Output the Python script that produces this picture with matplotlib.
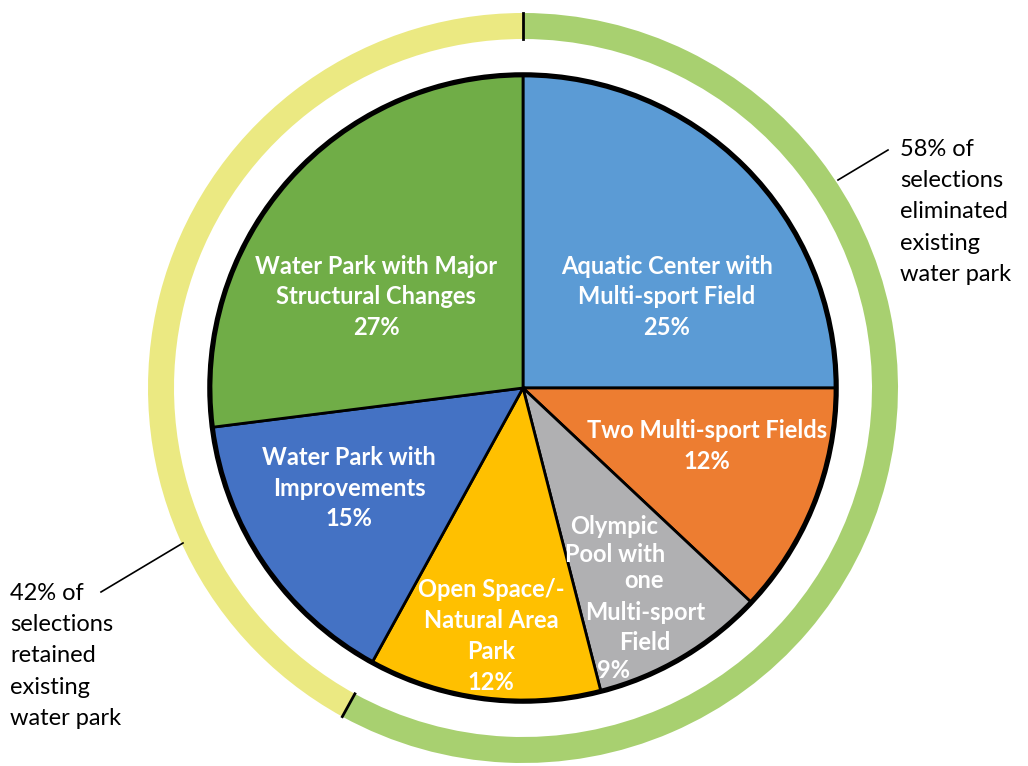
import matplotlib
matplotlib.use("Agg")
import matplotlib.pyplot as plt
import numpy as np
from matplotlib.patches import Circle, Rectangle

# slices, clockwise from 12 o'clock
slice_names = [
    "Aquatic Center with\nMulti-sport Field",
    "Two Multi-sport Fields",
    "Olympic Pool with one Multi-sport Field",
    "Open Space/-\nNatural Area\nPark",
    "Water Park with\nImprovements",
    "Water Park with Major\nStructural Changes",
]
slice_pct = [25, 12, 9, 12, 15, 27]
slice_colors = ["#5B9BD5", "#ED7D31", "#B0B0B2", "#FFC000", "#4472C4", "#70AD47"]

# outer ring: eliminated vs retained the existing water park
ring_pct = [58, 42]
ring_colors = ["#A8D070", "#EBE982"]
ring_notes = [
    "58% of\nselections\neliminated\nexisting\nwater park",
    "42% of\nselections\nretained\nexisting\nwater park",
]

plt.rcParams["font.family"] = ["Lato", "DejaVu Sans"]
plt.rcParams["hatch.color"] = "#eeeeee"
plt.rcParams["hatch.linewidth"] = 1.6

W, H = 1028, 766
fig = plt.figure(figsize=(W / 100, H / 100), dpi=100)
ax = fig.add_axes([0, 0, 1, 1])

# faint striped background
ax.add_patch(Rectangle((0, 0), W, H, facecolor="white", edgecolor="none",
                       hatch="\\\\\\\\\\\\\\\\\\\\", zorder=0))

cx, cy = 523, H - 388
r_pie, r_ring, ring_w = 312, 375, 26

ax.add_patch(Circle((cx, cy), r_ring, facecolor="white", edgecolor="none", zorder=1))

ax.pie(ring_pct, colors=ring_colors, radius=r_ring, center=(cx, cy),
       startangle=90, counterclock=False, frame=True,
       wedgeprops=dict(width=ring_w, edgecolor="none", zorder=2))
# black ticks at the ring boundaries
for frac in [0, ring_pct[0] / sum(ring_pct)]:
    a = np.deg2rad(90 - 360 * frac)
    ax.plot([cx + (r_ring - ring_w) * np.cos(a), cx + r_ring * np.cos(a)],
            [cy + (r_ring - ring_w) * np.sin(a), cy + r_ring * np.sin(a)],
            color="black", lw=2, zorder=3)

# pie outline (slightly shadowed look)
ax.add_patch(Circle((cx, cy), r_pie + 1, facecolor="none", edgecolor="black",
                    lw=4, zorder=3))
ax.pie(slice_pct, colors=slice_colors, radius=r_pie, center=(cx, cy),
       startangle=90, counterclock=False, frame=True,
       wedgeprops=dict(edgecolor="black", linewidth=2, zorder=4))
ax.set_xlim(0, W)
ax.set_ylim(0, H)
ax.set_aspect("equal")
ax.axis("off")

lbl = dict(color="white", fontsize=17, fontweight="bold", ha="center",
           va="center", zorder=5, linespacing=1.42)

def pct(v):
    return f"{v}%"

ax.text(667, H - 297, f"{slice_names[0]}\n{pct(slice_pct[0])}", **lbl)
ax.text(707, H - 446, f"{slice_names[1]}\n{pct(slice_pct[1])}", **lbl)
ax.text(491, H - 636, f"{slice_names[3]}\n{pct(slice_pct[3])}", **lbl)
ax.text(349, H - 488, f"{slice_names[4]}\n{pct(slice_pct[4])}", **lbl)
ax.text(376, H - 297, f"{slice_names[5]}\n{pct(slice_pct[5])}", **lbl)

# the Olympic pool label is broken into staggered lines in the original
olympic_lines = ["Olympic", "Pool with", "one", "Multi-sport", "Field", pct(slice_pct[2])]
olympic_xy = [(614, 527), (615, 555), (644, 581), (645, 612), (645, 643), (614, 670)]
for t, (x, y) in zip(olympic_lines, olympic_xy):
    ax.text(x, H - y, t, **lbl)

note = dict(color="black", fontsize=17, ha="left", va="center", linespacing=1.6, zorder=5)
ax.text(900, H - 212, ring_notes[0], **note)
ax.text(10, H - 656, ring_notes[1], **note)
ax.plot([838, 888], [H - 180, H - 150], color="black", lw=1.2, zorder=5)
ax.plot([101, 183], [H - 592, H - 543], color="black", lw=1.2, zorder=5)

fig.savefig("out.png", dpi=100)
